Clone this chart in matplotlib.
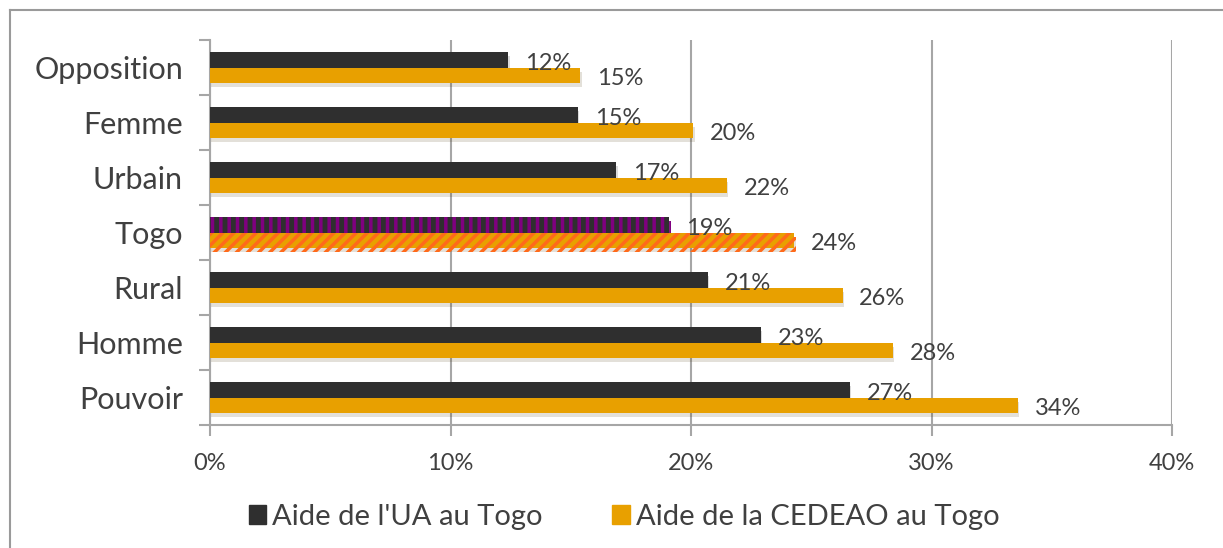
import matplotlib.pyplot as plt
import matplotlib.patheffects as pe
from matplotlib.patches import Rectangle
from matplotlib.ticker import FixedLocator, PercentFormatter

plt.rcParams['font.family'] = ['Lato', 'DejaVu Sans']
plt.rcParams['hatch.linewidth'] = 2.5

categories = ['Opposition', 'Femme', 'Urbain', 'Togo', 'Rural', 'Homme', 'Pouvoir']
ua_values = [12.4, 15.3, 16.9, 19.1, 20.7, 22.9, 26.6]
cedeao_values = [15.4, 20.1, 21.5, 24.3, 26.3, 28.4, 33.6]
ua_labels = ['12%', '15%', '17%', '19%', '21%', '23%', '27%']
cedeao_labels = ['15%', '20%', '22%', '24%', '26%', '28%', '34%']
series_names = ["Aide de l'UA au Togo", 'Aide de la CEDEAO au Togo']
highlight = 'Togo'

dark = '#2F2F2F'
orange = '#E8A000'
grid_col = '#A6A6A6'
text_col = '#404040'

fig = plt.figure(figsize=(12.23, 5.48), dpi=100)
# frame lines (left and top only)
fig.add_artist(plt.Line2D([10 / 1223, 10 / 1223], [0, 1 - 10 / 548], transform=fig.transFigure,
                          color='#9A9A9A', lw=1.5))
fig.add_artist(plt.Line2D([10 / 1223, 1], [1 - 10 / 548, 1 - 10 / 548], transform=fig.transFigure,
                          color='#9A9A9A', lw=1.5))

ax = fig.add_axes([210 / 1223, (548 - 425) / 548, 962 / 1223, 385 / 548])

h = 0.28
y = list(range(len(categories)))
shadow = [pe.SimplePatchShadow(offset=(1, -3), alpha=0.15), pe.Normal()]

for i, cat in enumerate(categories):
    if cat == highlight:
        b1 = ax.barh(i - h / 2, ua_values[i], height=h, color=dark, edgecolor='#800080',
                     hatch='||', linewidth=0, zorder=3)
        b2 = ax.barh(i + h / 2, cedeao_values[i], height=h, color=orange, edgecolor='#FF6A1A',
                     hatch='///', linewidth=0, zorder=3)
    else:
        b1 = ax.barh(i - h / 2, ua_values[i], height=h, color=dark, linewidth=0, zorder=3)
        b2 = ax.barh(i + h / 2, cedeao_values[i], height=h, color=orange, linewidth=0, zorder=3)
    for b in (b1, b2):
        for p in b:
            p.set_path_effects(shadow)
    ax.text(ua_values[i] + 0.7, i - h / 2 + 0.06, ua_labels[i], va='center', ha='left',
            fontsize=17, color=text_col, zorder=4)
    ax.text(cedeao_values[i] + 0.7, i + h / 2 + 0.06, cedeao_labels[i], va='center', ha='left',
            fontsize=17, color=text_col, zorder=4)

ax.set_xlim(0, 40)
ax.set_ylim(len(categories) - 0.5, -0.5)
ax.set_xticks([0, 10, 20, 30, 40])
ax.xaxis.set_major_formatter(PercentFormatter(decimals=0))
ax.set_yticks(y)
ax.set_yticklabels(categories)
ax.yaxis.set_minor_locator(FixedLocator([k - 0.5 for k in range(len(categories) + 1)]))
ax.tick_params(axis='y', which='major', length=0, pad=19.5, labelsize=22, labelcolor=text_col)
ax.tick_params(axis='y', which='minor', length=8, width=1.5, color=grid_col)
ax.tick_params(axis='x', which='major', length=8, width=1.5, color=grid_col, pad=12,
               labelsize=17, labelcolor=text_col)

ax.grid(axis='x', color=grid_col, lw=1.5, zorder=0)
ax.set_axisbelow(True)
for s in ('top', 'right'):
    ax.spines[s].set_visible(False)
for s in ('left', 'bottom'):
    ax.spines[s].set_color(grid_col)
    ax.spines[s].set_linewidth(1.5)

handles = [Rectangle((0, 0), 1, 1, color=dark), Rectangle((0, 0), 1, 1, color=orange)]
fig.legend(handles, series_names, loc='center', bbox_to_anchor=(624 / 1223, (548 - 517) / 548),
           ncol=2, frameon=False, fontsize=21, handlelength=0.6, handleheight=0.6,
           handletextpad=0.2, columnspacing=2.4, labelcolor=text_col)

fig.savefig('out.png', dpi=100)
